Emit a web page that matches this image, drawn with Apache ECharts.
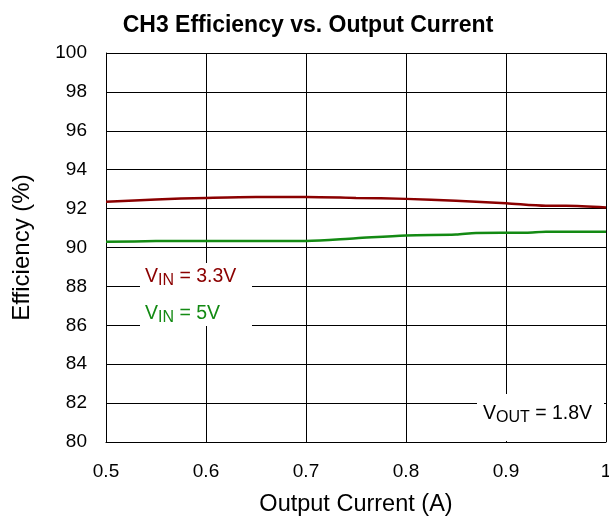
<!DOCTYPE html>
<html>
<head>
<meta charset="utf-8">
<script src="https://cdn.jsdelivr.net/npm/echarts@6/dist/echarts.min.js"></script>
<style>
  html, body { margin: 0; padding: 0; background: #fff; }
  #chart { width: 609px; height: 522px; }
</style>
</head>
<body>
<div id="chart"></div>
<script>
  // output current (A)
  const vin33Current = [0.5, 0.55, 0.6, 0.65, 0.7, 0.75, 0.8, 0.85, 0.9, 0.94, 0.96, 1.0];
  const vin33Eff = [92.35, 92.47, 92.55, 92.6, 92.6, 92.55, 92.5, 92.4, 92.28, 92.15, 92.15, 92.06];

  const vin5Current = [0.5, 0.55, 0.6, 0.65, 0.7, 0.75, 0.8, 0.85, 0.87, 0.92, 0.94, 1.0];
  const vin5Eff = [90.29, 90.33, 90.34, 90.34, 90.34, 90.48, 90.62, 90.67, 90.75, 90.76, 90.81, 90.81];

  const FONT = 'Liberation Sans, Arial, sans-serif';
  const RED = '#8B0000';
  const GREEN = '#138A13';

  const chart = echarts.init(document.getElementById('chart'));

  // V<sub>..</sub> = .. text
  function vText(x, y, color, sub, rest) {
    return {
      type: 'text',
      x: x,
      y: y,
      z: 101,
      style: {
        text: '{a|V}{s|' + sub + '}{a| = ' + rest + '}',
        verticalAlign: 'top',
        rich: {
          a: { fontSize: 19.5, fontFamily: FONT, fill: color, lineHeight: 22, verticalAlign: 'top' },
          s: { fontSize: 16, fontFamily: FONT, fill: color, lineHeight: 22, padding: [5, 0, 0, 0] }
        }
      }
    };
  }

  const option = {
    animation: false,
    textStyle: { fontFamily: FONT },
    title: {
      text: 'CH3 Efficiency vs. Output Current',
      left: 303,
      top: 9,
      textAlign: 'center',
      textStyle: { fontSize: 23, fontWeight: 'bold', color: '#000', fontFamily: FONT }
    },
    grid: { left: 106, right: 3, top: 53, bottom: 80, containLabel: false, outerBoundsMode: 'none' },
    xAxis: {
      type: 'value',
      min: 0.5,
      max: 1,
      interval: 0.1,
      name: 'Output Current (A)',
      nameLocation: 'middle',
      nameGap: 51,
      nameTextStyle: { fontSize: 23.5, color: '#000', fontFamily: FONT },
      axisLine: { show: true, lineStyle: { color: '#000', width: 1 } },
      axisTick: { show: false },
      axisLabel: {
        fontSize: 19, color: '#000', margin: 20,
        formatter: v => (Math.abs(v - 1) < 1e-9 ? '1' : v.toFixed(1))
      },
      splitLine: { show: true, lineStyle: { color: '#000', width: 1 } }
    },
    yAxis: {
      type: 'value',
      min: 80,
      max: 100,
      interval: 2,
      name: 'Efficiency (%)',
      nameLocation: 'middle',
      nameGap: 72,
      nameTextStyle: { fontSize: 24, color: '#000', fontFamily: FONT },
      axisLine: { show: true, lineStyle: { color: '#000', width: 1 } },
      axisTick: { show: false },
      axisLabel: { fontSize: 19, color: '#000', margin: 19 },
      splitLine: { show: true, lineStyle: { color: '#000', width: 1 } }
    },
    series: [
      {
        name: 'VIN = 3.3V',
        type: 'line',
        showSymbol: false,
        smooth: 0.3,
        data: vin33Current.map((x, i) => [x, vin33Eff[i]]),
        lineStyle: { color: RED, width: 2.5 },
        z: 10
      },
      {
        name: 'VIN = 5V',
        type: 'line',
        showSymbol: false,
        smooth: 0.3,
        data: vin5Current.map((x, i) => [x, vin5Eff[i]]),
        lineStyle: { color: GREEN, width: 2.5 },
        z: 10
      }
    ],
    graphic: [
      { type: 'rect', z: 100, shape: { x: 140, y: 263, width: 112, height: 63 }, style: { fill: '#fff' } },
      vText(145, 267, RED, 'IN', '3.3V'),
      vText(145, 304, GREEN, 'IN', '5V'),
      { type: 'rect', z: 100, shape: { x: 477, y: 394, width: 127, height: 47 }, style: { fill: '#fff' } },
      vText(483, 404, '#000', 'OUT', '1.8V')
    ]
  };

  chart.setOption(option);
</script>
</body>
</html>
